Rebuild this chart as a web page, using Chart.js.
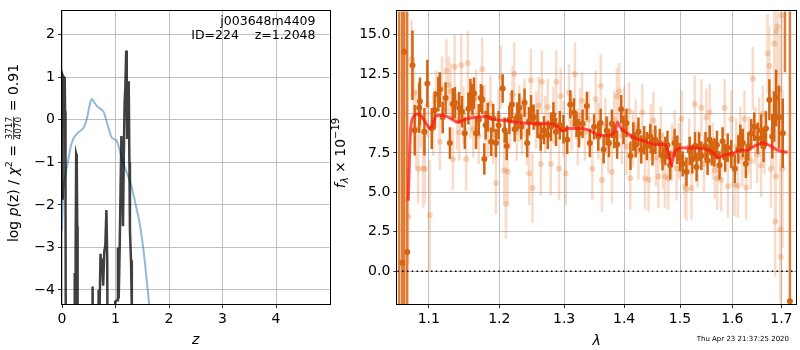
<!DOCTYPE html>
<html>
<head>
<meta charset="utf-8">
<script src="https://cdn.jsdelivr.net/npm/chart.js@4.4.0/dist/chart.umd.min.js"></script>
<style>
    html, body { margin: 0; padding: 0; background: #fff; }
    #wrap { position: relative; width: 800px; height: 350px; overflow: hidden; }
    #pz { position: absolute; left: 0; top: 0; }
    #spec { position: absolute; left: 331px; top: 0; }
</style>
</head>
<body>
<div id="wrap">
    <canvas id="pz" width="331" height="350"></canvas>
    <canvas id="spec" width="469" height="350"></canvas>
</div>
<script>
// ---- left panel: redshift probability ----
var Z_TICKS = [0, 1, 2, 3, 4];
var LOGP_TICKS = [-4, -3, -2, -1, 0, 1, 2];

// prior-like smooth curve (light blue)
var Z_PRIOR = [0, 0.02, 0.05, 0.11, 0.16, 0.21, 0.30, 0.40, 0.46, 0.51, 0.555, 0.62, 0.68, 0.74, 0.78,
    0.86, 0.93, 1.02, 1.12, 1.20, 1.27, 1.40, 1.46, 1.52, 1.61, 1.70];
var LOG_PRIOR = [-2.6, -1.8, -1.4, -0.99, -0.65, -0.45, -0.30, -0.19, 0.0, 0.3, 0.49, 0.38, 0.29, 0.24, 0.18,
    -0.15, -0.42, -0.49, -0.91, -1.2, -1.44, -2.12, -2.5, -3.03, -4.09, -5.2];

// log p(z) (dark spiky curve)
var Z_PZ = [0.000, 0.006, 0.012, 0.018, 0.026, 0.034, 0.042, 0.050, 0.058, 0.066, 0.075,
    0.200, 0.232, 0.238, 0.245, 0.255, 0.265, 0.275, 0.285, 0.292,
    0.555, 0.572, 0.588,
    0.665, 0.685, 0.700, 0.720, 0.735, 0.750, 0.770, 0.790, 0.810, 0.830, 0.845, 0.860,
    0.980, 0.995, 1.030, 1.045, 1.060, 1.078, 1.095, 1.110, 1.125, 1.140, 1.155, 1.170, 1.185,
    1.200, 1.210, 1.220, 1.235, 1.247, 1.260, 1.270, 1.290, 1.305, 1.315, 2.0, 5.0];
var LOG_PZ = [-1.85, 1.05, -0.9, 1.05, 1.0, 1.03, 0.4, 1.0, 0.2, -2.0, -8,
    -8, -4.6, -3.6, -4.8, -3.0, -0.8, -0.85, -2.5, -8,
    -8, -3.92, -8,
    -8, -4.0, -4.6, -3.15, -3.6, -3.26, -3.9, -3.1, -2.95, -2.12, -3.26, -8,
    -8, -4.28, -4.24, -3.0, -4.2, -3.03, -1.6, -0.38, -1.2, -2.5, -0.9, 0.38, 0.8,
    1.63, 0.6, -0.45, 0.3, 0.91, -1.0, -2.6, -3.3, -4.5, -8, -8, -8];

// ---- right panel: spectrum ----
var LAM_TICKS = [1.1, 1.2, 1.3, 1.4, 1.5, 1.6, 1.7];
var FLUX_TICKS = [0, 2.5, 5, 7.5, 10, 12.5, 15];

var DARK_LAM = [1.078, 1.081, 1.087, 1.088, 1.094, 1.098, 1.104, 1.108, 1.113, 1.115,
    1.119, 1.123, 1.129, 1.133, 1.136, 1.142, 1.146, 1.150, 1.155, 1.158,
    1.161, 1.163, 1.166, 1.170, 1.173, 1.175, 1.178, 1.180, 1.183, 1.188,
    1.191, 1.195, 1.199, 1.205, 1.208, 1.211, 1.215, 1.219, 1.223, 1.227,
    1.230, 1.233, 1.238, 1.242, 1.245, 1.248, 1.252, 1.258, 1.263, 1.268,
    1.274, 1.279, 1.283, 1.287, 1.293, 1.299, 1.305, 1.310, 1.316, 1.320,
    1.324, 1.330, 1.337, 1.342, 1.349, 1.356, 1.360, 1.365, 1.370, 1.374,
    1.379, 1.383, 1.388, 1.395, 1.399, 1.404, 1.411, 1.416, 1.420, 1.425,
    1.430, 1.435, 1.440, 1.446, 1.450, 1.455, 1.463, 1.468, 1.473, 1.477,
    1.482, 1.490, 1.495, 1.500, 1.505, 1.512, 1.518, 1.523, 1.528, 1.531,
    1.536, 1.540, 1.548, 1.552, 1.556, 1.560, 1.565, 1.570, 1.575, 1.581,
    1.586, 1.591, 1.598, 1.605, 1.612, 1.616, 1.621, 1.627, 1.632, 1.638,
    1.644, 1.651, 1.658, 1.663, 1.668, 1.675, 1.681, 1.685, 1.689, 1.695,
    1.703];
var DARK_FLUX = [13.05, 8.94, 10.36, 10.77, 8.84, 11.9, 9.04, 10.2, 11.22, 11.5,
    9.75, 10.97, 8.13, 10.6, 10.67, 10.36, 10.1, 8.74, 10.3, 11.2,
    10.87, 11.28, 8.74, 9.6, 10.97, 10.87, 7.11, 9.25, 9.76, 8.2,
    9.7, 8.13, 9.25, 11.58, 8.94, 7.93, 9.6, 10.57, 9.0, 9.8,
    10.36, 9.15, 10.67, 8.13, 9.5, 10.26, 9.76, 9.35, 8.54, 8.94,
    8.64, 9.15, 9.9, 8.84, 9.25, 9.0, 8.33, 10.57, 10.06, 9.3,
    8.74, 9.35, 10.47, 8.13, 9.15, 8.54, 9.4, 7.72, 8.9, 8.13,
    9.35, 8.6, 8.03, 10.26, 8.94, 9.4, 7.32, 8.54, 8.0, 8.84,
    7.72, 8.3, 7.93, 8.54, 7.6, 8.33, 8.13, 7.3, 7.62, 8.0,
    6.71, 8.13, 7.7, 7.22, 6.81, 6.3, 7.62, 7.1, 7.93, 6.61,
    7.9, 7.32, 7.93, 7.0, 8.33, 7.5, 7.52, 8.0, 6.71, 8.23,
    7.2, 7.83, 7.42, 6.5, 7.72, 8.4, 8.13, 6.81, 7.9, 8.74,
    9.15, 8.43, 8.94, 7.9, 9.04, 10.87, 8.54, 9.8, 10.97, 9.76,
    8.74];
var DARK_ERR = [2.2, 1.6, 1.6, 1.5, 1.5, 1.5, 1.3, 1.2, 1.1, 1.1,
    1.0, 1.0, 1.0, 1.0, 1.0, 1.0, 1.0, 1.0, 1.0, 1.0,
    1.0, 1.0, 1.0, 1.0, 0.9, 0.9, 1.0, 0.9, 0.9, 0.9,
    0.9, 0.9, 0.9, 0.9, 0.8, 0.9, 0.9, 0.9, 0.8, 0.9,
    0.9, 0.8, 0.9, 0.9, 0.9, 0.9, 0.8, 0.9, 0.9, 0.9,
    0.9, 0.9, 0.8, 0.9, 0.9, 0.9, 0.9, 0.9, 0.9, 0.8,
    0.9, 0.9, 0.9, 0.9, 0.8, 0.9, 0.9, 0.9, 0.9, 0.9,
    0.9, 0.8, 0.9, 0.9, 0.9, 0.9, 0.9, 0.9, 0.8, 0.9,
    0.9, 0.9, 0.9, 0.8, 0.9, 0.9, 0.9, 0.9, 0.9, 0.9,
    0.9, 0.9, 0.9, 0.9, 0.8, 0.9, 0.9, 0.9, 0.9, 0.9,
    0.9, 0.9, 0.9, 0.9, 0.9, 0.8, 0.9, 0.9, 0.9, 0.9,
    0.9, 0.9, 0.9, 0.9, 0.9, 0.9, 0.9, 0.9, 0.9, 0.9,
    0.9, 1.0, 1.0, 1.0, 1.1, 1.3, 1.4, 1.6, 1.8, 2.0,
    2.2];

// noisy edge pixels with huge uncertainties
var EDGE_LAM = [1.0605, 1.0645, 1.0671, 1.0710, 1.7075, 1.7180];
var EDGE_FLUX = [-4.0, 0.55, 13.9, 1.22, 20.0, -1.89];
var EDGE_ERR = [25, 25, 25, 25, 7.4, 25];

var LIGHT_LAM = [1.0724, 1.0769, 1.0800, 1.0830, 1.0856, 1.0890, 1.0923, 1.0946, 1.0980, 1.1013,
    1.1060, 1.1100, 1.1150, 1.1180, 1.1241, 1.1273, 1.1300, 1.1332, 1.1356, 1.1390,
    1.1420, 1.1450, 1.1480, 1.1519, 1.1543, 1.1580, 1.1620, 1.1660, 1.1700, 1.1749,
    1.1790, 1.1830, 1.1870, 1.1910, 1.1952, 1.1990, 1.2024, 1.2074, 1.2098, 1.2123,
    1.2160, 1.2199, 1.2224, 1.2260, 1.2300, 1.2340, 1.2380, 1.2420, 1.2452, 1.2477,
    1.2502, 1.2560, 1.2600, 1.2631, 1.2647, 1.2700, 1.2740, 1.2787, 1.2830, 1.2875,
    1.2919, 1.2945, 1.2990, 1.3026, 1.3078, 1.3120, 1.3175, 1.3220, 1.3260, 1.3292,
    1.3340, 1.3400, 1.3461, 1.3518, 1.3560, 1.3601, 1.3623, 1.3680, 1.3730, 1.3791,
    1.3830, 1.3876, 1.3914, 1.3960, 1.4000, 1.4040, 1.4086, 1.4106, 1.4150, 1.4200,
    1.4250, 1.4317, 1.4367, 1.4430, 1.4470, 1.4516, 1.4560, 1.4605, 1.4650, 1.4690,
    1.4725, 1.4785, 1.4850, 1.4900, 1.4937, 1.4980, 1.5029, 1.5092, 1.5120, 1.5170,
    1.5216, 1.5276, 1.5330, 1.5401, 1.5450, 1.5496, 1.5560, 1.5620, 1.5660, 1.5706,
    1.5783, 1.5850, 1.5914, 1.5980, 1.6045, 1.6080, 1.6111, 1.6160, 1.6200, 1.6244,
    1.6277, 1.6330, 1.6370, 1.6411, 1.6460, 1.6500, 1.6540, 1.6580, 1.6614, 1.6650,
    1.6714, 1.6749, 1.6783, 1.6820, 1.6852, 1.6870, 1.6885, 1.6900, 1.6920, 1.6950,
    1.6975, 1.6989, 1.7000, 1.7025];
var LIGHT_FLUX = [3.45, 13.45, 11.3, 9.0, 6.5, 9.8, 6.5, 6.5, 10.5, 3.55,
    9.3, 10.9, 8.2, 11.6, 12.7, 11.8, 11.4, 7.11, 12.96, 9.5,
    8.8, 13.05, 9.9, 7.11, 13.2, 10.2, 9.0, 11.0, 8.6, 12.8,
    10.0, 9.0, 10.6, 8.6, 5.6, 9.8, 12.3, 6.4, 4.27, 6.3,
    9.5, 11.2, 12.5, 8.8, 10.0, 9.2, 10.4, 8.5, 6.2, 12.1,
    5.28, 9.6, 10.5, 6.8, 12.0, 9.3, 10.4, 6.8, 9.9, 12.0,
    6.5, 11.1, 9.0, 6.2, 11.3, 9.4, 12.5, 8.5, 9.8, 10.8,
    8.8, 9.6, 6.5, 10.9, 8.9, 11.74, 5.79, 9.2, 8.0, 6.3,
    9.6, 11.07, 11.4, 8.6, 9.9, 7.9, 10.16, 5.9, 8.4, 9.1,
    7.6, 10.06, 5.9, 5.8, 8.8, 9.55, 7.2, 6.0, 8.6, 7.0,
    6.0, 5.9, 7.5, 8.4, 6.5, 7.6, 9.65, 5.38, 5.2, 7.9,
    5.28, 10.6, 7.1, 10.36, 6.8, 9.76, 10.06, 7.6, 6.4, 5.9,
    5.79, 10.36, 5.38, 9.65, 5.48, 7.9, 5.4, 8.6, 7.2, 9.65,
    5.3, 8.0, 7.0, 12.2, 8.6, 7.4, 9.2, 6.7, 9.96, 8.2,
    13.8, 13.0, 6.5, 9.0, 14.43, 3.15, 6.0, 15.2, 15.5, 11.5,
    2.65, 0.91, 16.2, 6.5];
var LIGHT_ERR = [3.0, 2.5, 2.2, 2.5, 2.2, 2.0, 2.5, 2.2, 2.0, 3.5,
    2.0, 1.8, 1.8, 2.0, 2.0, 1.8, 1.8, 2.0, 2.0, 1.8,
    1.8, 2.0, 1.8, 2.0, 2.0, 1.8, 1.8, 1.8, 1.8, 2.0,
    1.8, 1.8, 1.8, 1.8, 2.0, 1.8, 2.0, 2.0, 2.2, 2.0,
    1.8, 1.8, 2.0, 1.8, 1.8, 1.8, 1.8, 1.8, 2.0, 2.0,
    2.2, 1.8, 1.8, 2.0, 2.0, 1.8, 1.8, 2.0, 1.8, 2.0,
    2.0, 1.8, 1.8, 2.0, 1.8, 1.8, 2.0, 1.8, 1.8, 1.8,
    1.8, 1.8, 2.0, 1.8, 1.8, 2.0, 2.0, 1.8, 1.8, 2.0,
    1.8, 1.8, 1.8, 1.8, 1.8, 1.8, 1.8, 2.0, 1.8, 1.8,
    1.8, 1.8, 2.0, 2.0, 1.8, 1.8, 1.8, 2.0, 1.8, 1.8,
    2.0, 2.0, 1.8, 1.8, 2.0, 1.8, 1.8, 2.0, 2.0, 1.8,
    2.0, 1.8, 1.8, 1.8, 1.8, 1.8, 1.8, 1.8, 1.8, 2.0,
    2.0, 1.8, 2.0, 1.8, 2.0, 1.8, 2.0, 1.8, 1.8, 1.8,
    2.0, 1.8, 1.8, 2.0, 1.8, 1.8, 1.8, 2.0, 1.8, 2.0,
    2.5, 2.5, 2.5, 2.5, 3.0, 3.5, 3.0, 3.0, 3.5, 3.5,
    4.5, 9.0, 5.0, 5.0];

// best-fit model (red)
var MODEL_LAM = [1.0724, 1.0755, 1.079, 1.0856, 1.0923, 1.1023, 1.1104, 1.1194, 1.131, 1.140,
    1.152, 1.166, 1.181, 1.188, 1.210, 1.235, 1.2605, 1.281, 1.289, 1.297,
    1.308, 1.329, 1.340, 1.357, 1.3735, 1.385, 1.389, 1.393, 1.402, 1.419,
    1.437, 1.4545, 1.4726, 1.4785, 1.4834, 1.4894, 1.4967, 1.515, 1.5465, 1.5624,
    1.572, 1.585, 1.6045, 1.6176, 1.631, 1.644, 1.661, 1.675, 1.692, 1.713];
var MODEL_FLUX = [4.47, 8.94, 9.76, 9.96, 9.66, 9.04, 9.86, 9.9, 9.65, 9.45,
    9.65, 9.76, 9.8, 9.65, 9.55, 9.39, 9.35, 9.35, 9.15, 8.9,
    9.04, 9.04, 8.94, 8.64, 8.6, 8.94, 9.45, 9.15, 8.84, 8.43,
    8.23, 8.03, 8.03, 7.52, 6.75, 7.52, 7.76, 7.83, 7.76, 7.52,
    7.21, 7.36, 7.52, 7.68, 7.68, 7.93, 8.13, 7.97, 7.68, 7.52];

var LAM_MIN = 1.058, LAM_MAX = 1.731;
var FLUX_MIN = -2.07, FLUX_MAX = 16.46;

var OBJ_NAME = 'j003648m4409';
var OBJ_INFO = 'ID=224    z=1.2048';
var STAMP = 'Thu Apr 23 21:37:25 2020';

var FONT = 'DejaVu Sans';
Chart.defaults.font.family = FONT;
Chart.defaults.font.size = 14;
Chart.defaults.color = '#000';

function pairs(xs, ys) {
    return xs.map(function (x, i) { return { x: x, y: ys[i] }; });
}

// vertical error segments separated by gaps
function errorBars(xs, ys, es) {
    var out = [];
    for (var i = 0; i < xs.length; i++) {
        out.push({ x: xs[i], y: ys[i] - es[i] });
        out.push({ x: xs[i], y: ys[i] + es[i] });
        out.push({ x: xs[i], y: null });
    }
    return out;
}

function minus(v) {
    return v < 0 ? '\u2212' + Math.abs(v) : String(v);
}

function axisGrid() {
    return { color: '#b0b0b0', lineWidth: 0.8, tickColor: '#000', tickLength: 4 };
}

// box round the plot area
var frame = {
    id: 'frame',
    afterDraw: function (chart) {
        var a = chart.chartArea, c = chart.ctx;
        c.save();
        c.strokeStyle = '#000';
        c.lineWidth = 1;
        c.strokeRect(Math.round(a.left) - 0.5, Math.round(a.top) - 0.5,
            Math.round(a.right - a.left) + 1, Math.round(a.bottom - a.top) + 1);
        c.restore();
    }
};

// draws a run of text pieces along the current x direction
function drawPieces(c, pieces, startX) {
    var x = startX;
    pieces.forEach(function (p) {
        if (p.frac) {
            c.font = p.font;
            var w = Math.max(c.measureText(p.frac[0]).width, c.measureText(p.frac[1]).width);
            c.textAlign = 'center';
            c.fillText(p.frac[0], x + w / 2 + 1, p.dy[0]);
            c.fillText(p.frac[1], x + w / 2 + 1, p.dy[1]);
            c.fillRect(x + 1, p.line, w, 0.8);
            c.textAlign = 'left';
            x += w + 2;
        } else {
            c.font = p.font;
            c.fillText(p.t, x, p.dy || 0);
            x += c.measureText(p.t).width;
        }
    });
    return x;
}

function piecesWidth(c, pieces) {
    var w = 0;
    pieces.forEach(function (p) {
        c.font = p.font;
        if (p.frac) {
            w += Math.max(c.measureText(p.frac[0]).width, c.measureText(p.frac[1]).width) + 2;
        } else {
            w += c.measureText(p.t).width;
        }
    });
    return w;
}

function rotatedLabel(c, pieces, cx, cy) {
    c.save();
    c.translate(cx, cy);
    c.rotate(-Math.PI / 2);
    c.fillStyle = '#000';
    c.textBaseline = 'alphabetic';
    c.textAlign = 'left';
    var w = piecesWidth(c, pieces);
    drawPieces(c, pieces, -w / 2);
    c.restore();
}

var pzText = {
    id: 'pzText',
    afterDraw: function (chart) {
        var c = chart.ctx, a = chart.chartArea;
        c.save();
        c.fillStyle = '#000';
        c.font = '12.5px ' + FONT;
        c.textAlign = 'right';
        c.textBaseline = 'alphabetic';
        c.fillText(OBJ_NAME, a.right - 14, 25);
        c.fillText(OBJ_INFO, a.right - 14, 38.5);
        c.font = 'italic 14px ' + FONT;
        c.textAlign = 'center';
        c.textBaseline = 'middle';
        c.fillText('z', (a.left + a.right) / 2, 340);
        c.restore();

        var n = '14px ' + FONT, it = 'italic 14px ' + FONT, s = '9.5px ' + FONT;
        rotatedLabel(c, [
            { t: 'log ', font: n, dy: 5 },
            { t: 'p', font: it, dy: 5 },
            { t: '(z) / ', font: n, dy: 5 },
            { t: '\u03c7', font: it, dy: 5 },
            { t: '2', font: s, dy: -1.5 },
            { t: ' = ', font: n, dy: 5 },
            { frac: ['3717', '4070'], font: '9px ' + FONT, dy: [-1, 7.8], line: 0.3 },
            { t: ' = 0.91', font: n, dy: 5 }
        ], 13, 153);
    }
};

var specText = {
    id: 'specText',
    afterDraw: function (chart) {
        var c = chart.ctx, a = chart.chartArea;
        c.save();
        c.fillStyle = '#000';
        c.font = 'italic 14px ' + FONT;
        c.textAlign = 'center';
        c.textBaseline = 'middle';
        c.fillText('\u03bb', (a.left + a.right) / 2, 341);
        c.font = '7px ' + FONT;
        c.textAlign = 'right';
        c.fillText(STAMP, 458, 339);
        c.restore();

        var n = '14px ' + FONT, it = 'italic 14px ' + FONT, s = '10px ' + FONT;
        rotatedLabel(c, [
            { t: 'f', font: it, dy: 5 },
            { t: '\u03bb', font: 'italic 10px ' + FONT, dy: 8 },
            { t: ' \u00d7 10', font: n, dy: 5 },
            { t: '\u221219', font: s, dy: -1 }
        ], 9, 153);
    }
};

// left chart
new Chart(document.getElementById('pz'), {
    type: 'scatter',
    data: {
        datasets: [
            {
                data: pairs(Z_PZ, LOG_PZ),
                showLine: true,
                borderColor: 'rgba(0,0,0,0.75)',
                borderWidth: 2.5,
                pointRadius: 0,
                order: 1
            },
            {
                data: pairs(Z_PRIOR, LOG_PRIOR),
                showLine: true,
                borderColor: 'rgba(31,119,180,0.5)',
                borderWidth: 2,
                pointRadius: 0,
                cubicInterpolationMode: 'monotone',
                order: 2
            }
        ]
    },
    options: {
        responsive: false,
        animation: false,
        devicePixelRatio: 1,
        layout: { padding: { top: 1, right: 1.5, left: 0, bottom: 0 } },
        plugins: { legend: { display: false }, tooltip: { enabled: false } },
        scales: {
            x: {
                type: 'linear', min: 0, max: 5.0,
                afterBuildTicks: function (s) { s.ticks = Z_TICKS.map(function (v) { return { value: v }; }); },
                afterFit: function (s) { s.height = 46; },
                grid: axisGrid(),
                border: { display: false },
                ticks: { padding: 3, maxRotation: 0, autoSkip: false, callback: function (v) { return minus(v); } }
            },
            y: {
                type: 'linear', min: -4.33, max: 2.55,
                afterBuildTicks: function (s) { s.ticks = LOGP_TICKS.map(function (v) { return { value: v }; }); },
                afterFit: function (s) { s.width = 62; },
                grid: axisGrid(),
                border: { display: false },
                ticks: { padding: 3, autoSkip: false, callback: function (v) { return minus(v); } }
            }
        }
    },
    plugins: [frame, pzText]
});

// right chart
new Chart(document.getElementById('spec'), {
    type: 'scatter',
    data: {
        datasets: [
            {
                data: errorBars(LIGHT_LAM, LIGHT_FLUX, LIGHT_ERR),
                showLine: true, spanGaps: false,
                borderColor: 'rgba(230,126,56,0.28)', borderWidth: 2.5,
                pointRadius: 0, order: 7
            },
            {
                data: pairs(LIGHT_LAM, LIGHT_FLUX),
                pointRadius: 3, pointBorderWidth: 0,
                backgroundColor: 'rgba(230,126,56,0.32)',
                order: 6
            },
            {
                data: errorBars(EDGE_LAM, EDGE_FLUX, EDGE_ERR),
                showLine: true, spanGaps: false,
                borderColor: 'rgb(224,124,54)', borderWidth: 2.5,
                pointRadius: 0, order: 5
            },
            {
                data: errorBars(DARK_LAM, DARK_FLUX, DARK_ERR),
                showLine: true, spanGaps: false,
                borderColor: 'rgb(213,100,16)', borderWidth: 2.5,
                pointRadius: 0, order: 4
            },
            {
                data: pairs(DARK_LAM.concat(EDGE_LAM), DARK_FLUX.concat(EDGE_FLUX)),
                pointRadius: 3, pointBorderWidth: 0,
                backgroundColor: 'rgb(213,100,16)',
                order: 3
            },
            {
                data: pairs(MODEL_LAM, MODEL_FLUX),
                showLine: true,
                borderColor: 'rgba(255,20,20,0.72)', borderWidth: 3,
                pointRadius: 0, cubicInterpolationMode: 'monotone',
                order: 2
            },
            {
                data: [{ x: LAM_MIN, y: 0 }, { x: LAM_MAX, y: 0 }],
                showLine: true,
                borderColor: '#000', borderWidth: 1.6, borderDash: [1.6, 3.2],
                pointRadius: 0, order: 1
            }
        ]
    },
    options: {
        responsive: false,
        animation: false,
        devicePixelRatio: 1,
        layout: { padding: { top: 1, right: 1.3, left: 0, bottom: 0 } },
        plugins: { legend: { display: false }, tooltip: { enabled: false } },
        scales: {
            x: {
                type: 'logarithmic', min: LAM_MIN, max: LAM_MAX,
                afterBuildTicks: function (s) { s.ticks = LAM_TICKS.map(function (v) { return { value: v }; }); },
                afterFit: function (s) { s.height = 46; },
                grid: axisGrid(),
                border: { display: false },
                ticks: { padding: 3, maxRotation: 0, autoSkip: false, callback: function (v) { return Number(v).toFixed(1); } }
            },
            y: {
                type: 'linear', min: FLUX_MIN, max: FLUX_MAX,
                afterBuildTicks: function (s) { s.ticks = FLUX_TICKS.map(function (v) { return { value: v }; }); },
                afterFit: function (s) { s.width = 66.3; },
                grid: axisGrid(),
                border: { display: false },
                ticks: { padding: 3, autoSkip: false, callback: function (v) { return Number(v).toFixed(1); } }
            }
        }
    },
    plugins: [frame, specText]
});
</script>
</body>
</html>
